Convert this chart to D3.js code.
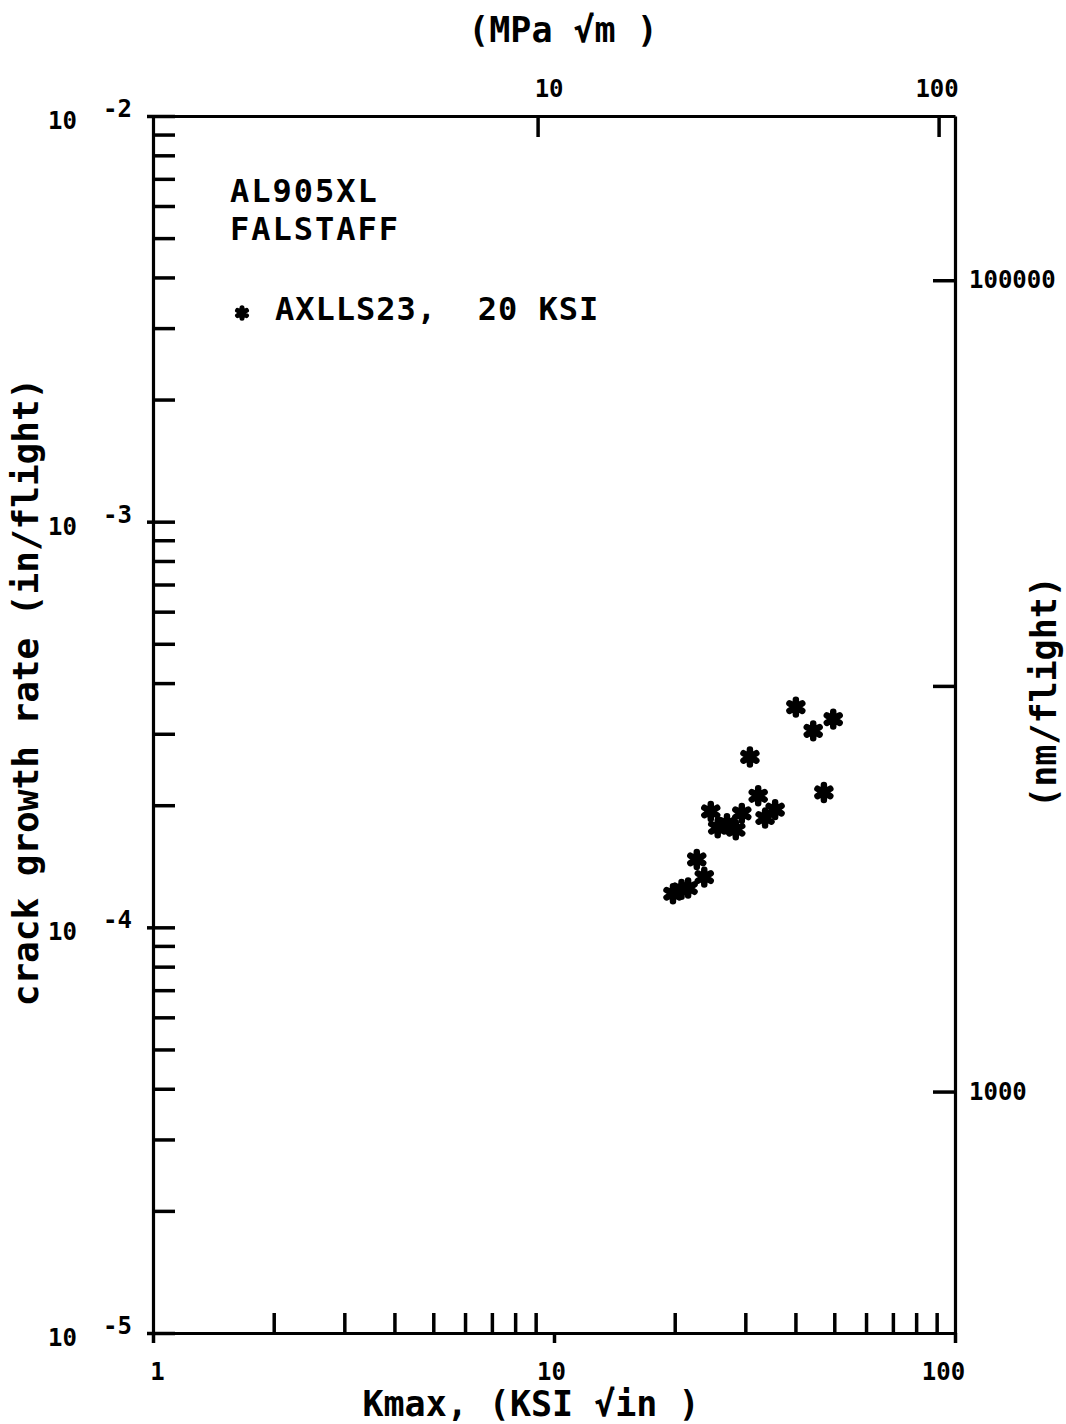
<!DOCTYPE html>
<html>
<head>
<meta charset="utf-8">
<script src="https://cdn.jsdelivr.net/npm/d3@7"></script>
<style>
    body { margin: 0; background: #fff; }
    text { font-family: 'DejaVu Sans Mono', monospace; font-weight: bold; fill: #000; }
</style>
</head>
<body>
<div id="wrapper"></div>
<script>
// AXLLS23, 20 KSI
const kmax = [40.1, 49.7, 44.3, 30.8, 47.1, 32.3, 24.6, 29.4, 35.6, 33.6, 25.6, 27.0, 28.4, 22.7, 23.7, 19.8, 20.8, 21.6]
const rate = [3.49e-4, 3.26e-4, 3.05e-4, 2.63e-4, 2.15e-4, 2.11e-4, 1.93e-4, 1.91e-4, 1.95e-4, 1.86e-4, 1.76e-4, 1.80e-4, 1.74e-4, 1.47e-4, 1.33e-4, 1.21e-4, 1.24e-4, 1.25e-4]

const xLabels = [1, 10, 100]
const yDecades = [1e-2, 1e-3, 1e-4, 1e-5]
const topLabels = [10, 100]
const rightTicks = [100000, 10000, 1000]
const rightLabels = [100000, 1000]   // 10000 is not printed on the original
const noteLines = ['AL905XL', 'FALSTAFF']
const legendText = 'AXLLS23,  20 KSI'

const ksiToMpa = 1.0988
const inToNm = 2.54e7

const plotLeft = 153, plotRight = 955, plotTop = 116, plotBottom = 1333

const wrapper = d3.select('#wrapper')
    .append('svg')
        .attr('width', 1066)
        .attr('height', 1424)

const x = d3.scaleLog().domain([1, 100]).range([plotLeft, plotRight])
const xTop = d3.scaleLog().domain([1 * ksiToMpa, 100 * ksiToMpa]).range([plotLeft, plotRight])
const y = d3.scaleLog().domain([1e-5, 1e-2]).range([plotBottom, plotTop])
const yRight = d3.scaleLog().domain([1e-5 * inToNm, 1e-2 * inToNm]).range([plotBottom, plotTop])

const isDecade = d => Math.abs(Math.log10(d) - Math.round(Math.log10(d))) < 1e-6

var styleAxis = function (g) {
    g.attr('font-family', null).attr('font-size', null)
    g.select('.domain').attr('stroke-width', 3.2)
    g.selectAll('.tick line').attr('stroke-width', 3.5)
    g.selectAll('.tick text').style('font-size', '24px')
}

// bottom axis, minor ticks inside
wrapper.append('g')
    .attr('transform', `translate(0,${plotBottom})`)
    .call(d3.axisBottom(x).tickValues(x.ticks().filter(d => !isDecade(d))).tickSize(-20).tickFormat('').tickSizeOuter(0))
    .call(styleAxis)

const bottomAxis = wrapper.append('g')
    .attr('transform', `translate(0,${plotBottom})`)
    .call(d3.axisBottom(x).tickValues(xLabels).tickSize(10).tickPadding(20).tickFormat(d3.format('d')).tickSizeOuter(0))
    .call(styleAxis)

bottomAxis.selectAll('.tick text')
    .attr('dx', (d, i) => [4, -3, -12][i])

// top axis, MPa sqrt(m)
const topAxis = wrapper.append('g')
    .attr('transform', `translate(0,${plotTop})`)
    .call(d3.axisTop(xTop).tickValues(topLabels).tickSize(-21).tickPadding(19).tickFormat(d3.format('d')).tickSizeOuter(0))
    .call(styleAxis)

topAxis.selectAll('.tick text')
    .attr('dx', (d, i) => [11, -2][i])

// left axis
const leftAxis = wrapper.append('g')
    .attr('transform', `translate(${plotLeft},0)`)
    .call(d3.axisLeft(y).tickValues(y.ticks()).tickSize(-22).tickFormat('').tickSizeOuter(0))
    .call(styleAxis)

leftAxis.selectAll('.tick line')
    .filter(d => isDecade(d))
    .attr('x1', -6)

const yLab = wrapper.append('g')
yDecades.forEach(function (d) {
    yLab.append('text')
        .attr('x', 48)
        .attr('y', y(d) + 13)
        .style('font-size', '24px')
        .text('10')
    yLab.append('text')
        .attr('x', 103)
        .attr('y', y(d) + 1)
        .style('font-size', '24px')
        .text(Math.round(Math.log10(d)))
})

// right axis, nm/flight
wrapper.append('g')
    .attr('transform', `translate(${plotRight},0)`)
    .call(d3.axisRight(yRight).tickValues(rightTicks).tickSize(-22).tickPadding(14)
        .tickFormat(d => rightLabels.includes(d) ? d3.format('d')(d) : '').tickSizeOuter(0))
    .call(styleAxis)

// axis titles
wrapper.append('text')
    .attr('x', 531)
    .attr('y', 1416)
    .attr('text-anchor', 'middle')
    .style('font-size', '35px')
    .text('Kmax,  (KSI √in )')

wrapper.append('text')
    .attr('x', 563)
    .attr('y', 42)
    .attr('text-anchor', 'middle')
    .style('font-size', '35px')
    .text('(MPa √m )')

wrapper.append('text')
    .attr('transform', 'translate(38,692) rotate(-90)')
    .attr('text-anchor', 'middle')
    .style('font-size', '36px')
    .text('crack growth rate (in/flight)')

wrapper.append('text')
    .attr('transform', 'translate(1056,692) rotate(-90)')
    .attr('text-anchor', 'middle')
    .style('font-size', '35px')
    .text('(nm/flight)')

// notes and legend
const notes = wrapper.append('g')
noteLines.forEach(function (t, i) {
    notes.append('text')
        .attr('x', 230)
        .attr('y', 202 + i * 38)
        .style('font-size', '32px')
        .style('letter-spacing', '2px')
        .text(t)
})

const star = d3.symbol().type(d3.symbolAsterisk)

notes.append('path')
    .attr('d', star.size(75)())
    .attr('transform', 'translate(242,313)')
    .attr('fill', 'none')
    .attr('stroke', '#000')
    .attr('stroke-width', 5)
    .attr('stroke-linecap', 'round')

notes.append('text')
    .attr('x', 275)
    .attr('y', 320)
    .style('font-size', '32px')
    .style('letter-spacing', '1px')
    .attr('xml:space', 'preserve')
    .text(legendText)

// data points
wrapper.append('g')
    .selectAll('path')
    .data(kmax)
    .join('path')
        .attr('d', star.size(155)())
        .attr('transform', (d, i) => `translate(${x(d)},${y(rate[i])})`)
        .attr('fill', 'none')
        .attr('stroke', '#000')
        .attr('stroke-width', 6.5)
        .attr('stroke-linecap', 'round')
</script>
</body>
</html>
